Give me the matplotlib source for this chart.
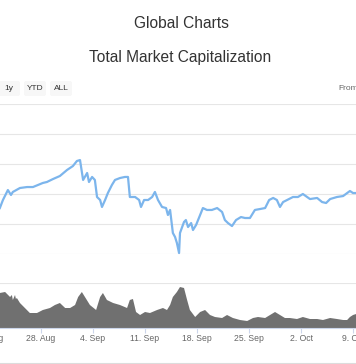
import matplotlib
matplotlib.use("Agg")
import matplotlib.pyplot as plt
import matplotlib.dates as mdates
from matplotlib.patches import FancyBboxPatch
import pandas as pd
import numpy as np

plt.rcParams['font.family'] = ['Liberation Sans', 'DejaVu Sans']

title = "Global Charts"
subtitle = "Total Market Capitalization"
range_buttons = ["1y", "YTD", "ALL"]
from_label = "From"

price_times = [
    "2017-08-22 11:00", "2017-08-22 21:00", "2017-08-23 13:00", "2017-08-23 23:00",
    "2017-08-24 05:00", "2017-08-25 04:00", "2017-08-26 03:00", "2017-08-26 22:00",
    "2017-08-28 06:00", "2017-08-28 19:00", "2017-08-29 15:00", "2017-08-30 13:00",
    "2017-08-31 12:00", "2017-09-01 07:00", "2017-09-01 20:00", "2017-09-02 06:00",
    "2017-09-02 16:00", "2017-09-03 05:00", "2017-09-03 11:00", "2017-09-03 21:00",
    "2017-09-04 06:00", "2017-09-04 13:00", "2017-09-04 23:00", "2017-09-05 05:00",
    "2017-09-05 15:00", "2017-09-06 00:00", "2017-09-06 13:00", "2017-09-06 23:00",
    "2017-09-07 15:00", "2017-09-08 07:00", "2017-09-08 17:00", "2017-09-08 23:00",
    "2017-09-09 16:00", "2017-09-10 05:00", "2017-09-10 11:00", "2017-09-10 21:00",
    "2017-09-11 10:00", "2017-09-11 23:00", "2017-09-12 08:00", "2017-09-12 18:00",
    "2017-09-13 07:00", "2017-09-13 20:00", "2017-09-14 02:00", "2017-09-14 09:00",
    "2017-09-14 18:00", "2017-09-15 01:00", "2017-09-15 07:00", "2017-09-15 14:00",
    "2017-09-15 17:00", "2017-09-16 00:00", "2017-09-16 06:00", "2017-09-16 12:00",
    "2017-09-16 19:00", "2017-09-17 05:00", "2017-09-17 11:00", "2017-09-17 21:00",
    "2017-09-18 10:00", "2017-09-18 19:00", "2017-09-19 08:00", "2017-09-20 00:00",
    "2017-09-20 17:00", "2017-09-21 09:00", "2017-09-21 18:00", "2017-09-22 04:00",
    "2017-09-22 17:00", "2017-09-23 06:00", "2017-09-23 22:00", "2017-09-24 11:00",
    "2017-09-25 03:00", "2017-09-25 19:00", "2017-09-26 12:00", "2017-09-27 04:00",
    "2017-09-27 17:00", "2017-09-28 06:00", "2017-09-28 18:00", "2017-09-29 04:00",
    "2017-09-29 14:00", "2017-09-30 03:00", "2017-09-30 22:00", "2017-10-01 14:00",
    "2017-10-02 06:00", "2017-10-03 05:00", "2017-10-04 04:00", "2017-10-04 20:00",
    "2017-10-05 09:00", "2017-10-05 22:00", "2017-10-06 20:00", "2017-10-07 16:00",
    "2017-10-08 05:00", "2017-10-08 14:00", "2017-10-09 00:00", "2017-10-09 10:00",
]
market_cap_bn = [
    138.3, 145.0, 153.3, 149.2, 151.7, 155.0, 155.8, 155.8,
    159.2, 160.0, 162.5, 165.0, 170.0, 173.3, 177.5, 178.3,
    161.7, 167.5, 160.0, 164.2, 161.7, 147.5, 145.0, 139.2,
    145.0, 150.8, 157.5, 161.7, 163.3, 164.2, 164.2, 147.5,
    147.5, 145.0, 139.2, 145.0, 145.0, 147.5, 151.7, 145.0,
    139.2, 138.3, 132.5, 136.7, 117.5, 114.2, 109.2, 100.8,
    117.5, 122.5, 126.7, 128.3, 122.5, 125.8, 120.0, 124.2,
    132.5, 138.3, 136.7, 136.7, 138.3, 135.0, 128.3, 125.8,
    123.3, 128.3, 130.8, 130.0, 130.0, 136.7, 137.5, 138.3,
    145.0, 146.7, 145.0, 139.2, 143.3, 145.0, 147.5, 147.5,
    150.0, 145.8, 146.7, 143.3, 142.5, 145.8, 147.5, 148.3,
    150.8, 152.5, 150.8, 150.8,
]

volume_times = [
    "2017-08-22 11:00", "2017-08-23 04:00", "2017-08-23 20:00", "2017-08-24 02:00",
    "2017-08-24 05:00", "2017-08-24 12:00", "2017-08-24 15:00", "2017-08-24 18:00",
    "2017-08-25 04:00", "2017-08-25 20:00", "2017-08-26 12:00", "2017-08-27 11:00",
    "2017-08-28 06:00", "2017-08-29 05:00", "2017-08-29 21:00", "2017-08-30 13:00",
    "2017-08-31 06:00", "2017-08-31 22:00", "2017-09-01 14:00", "2017-09-02 00:00",
    "2017-09-02 12:00", "2017-09-02 22:00", "2017-09-03 14:00", "2017-09-04 10:00",
    "2017-09-04 23:00", "2017-09-05 08:00", "2017-09-05 21:00", "2017-09-06 17:00",
    "2017-09-07 15:00", "2017-09-08 14:00", "2017-09-08 23:00", "2017-09-09 09:00",
    "2017-09-09 19:00", "2017-09-10 08:00", "2017-09-11 00:00", "2017-09-11 16:00",
    "2017-09-12 15:00", "2017-09-13 10:00", "2017-09-13 23:00", "2017-09-14 09:00",
    "2017-09-14 18:00", "2017-09-15 07:00", "2017-09-15 17:00", "2017-09-16 06:00",
    "2017-09-16 16:00", "2017-09-17 01:00", "2017-09-17 18:00", "2017-09-18 10:00",
    "2017-09-19 02:00", "2017-09-19 18:00", "2017-09-20 10:00", "2017-09-21 09:00",
    "2017-09-22 01:00", "2017-09-22 20:00", "2017-09-23 19:00", "2017-09-24 18:00",
    "2017-09-25 13:00", "2017-09-26 05:00", "2017-09-27 04:00", "2017-09-27 20:00",
    "2017-09-28 12:00", "2017-09-29 04:00", "2017-09-29 20:00", "2017-09-30 12:00",
    "2017-10-01 11:00", "2017-10-02 06:00", "2017-10-03 05:00", "2017-10-04 04:00",
    "2017-10-04 23:00", "2017-10-05 22:00", "2017-10-06 20:00", "2017-10-07 16:00",
    "2017-10-08 05:00", "2017-10-08 14:00", "2017-10-09 00:00", "2017-10-09 10:00",
]
volume_bn = [
    7.0, 7.2, 6.2, 6.6, 5.6, 6.6, 5.8, 6.0,
    5.0, 4.0, 3.0, 3.0, 3.6, 4.0, 4.6, 5.0,
    4.0, 4.0, 4.6, 6.2, 7.2, 6.2, 4.6, 3.6,
    6.2, 7.0, 5.6, 5.0, 4.6, 4.0, 5.6, 5.8,
    3.2, 2.6, 3.2, 3.0, 3.6, 4.0, 3.6, 4.6,
    6.2, 7.2, 8.2, 8.0, 5.6, 3.6, 2.2, 3.2,
    3.6, 2.6, 2.2, 2.0, 2.6, 2.0, 1.6, 1.4,
    2.0, 2.2, 2.0, 2.6, 3.2, 2.6, 2.0, 2.0,
    1.8, 2.2, 1.8, 1.8, 1.6, 2.0, 1.8, 1.6,
    1.6, 2.2, 2.6, 2.8,
]

tick_dates = ["2017-08-21", "2017-08-28", "2017-09-04", "2017-09-11",
              "2017-09-18", "2017-09-25", "2017-10-02", "2017-10-09"]
tick_labels = ["21. Aug", "28. Aug", "4. Sep", "11. Sep",
               "18. Sep", "25. Sep", "2. Oct", "9. Oct"]
price_grid = [100, 125, 150, 175, 200, 225]
volume_max = 9.0

W, H = 356, 364
fig = plt.figure(figsize=(W / 100, H / 100), dpi=100)
fig.patch.set_facecolor('white')


def fy(py):
    return 1 - py / H


def to_num(strings):
    return mdates.date2num(pd.to_datetime(strings).to_pydatetime())


ref_day = mdates.date2num(pd.Timestamp("2017-08-28").to_pydatetime())
x_start = ref_day - 5.52
x_end = ref_day + 42.40

pt = to_num(price_times)
vt = to_num(volume_times)
tk = to_num(tick_dates)

grid_c = '#e6e6e6'

# price panel
axp = fig.add_axes([0, fy(254), 1, (254 - 104) / H])
axp.plot(pt, market_cap_bn, color='#7cb5ec', lw=1.6, clip_on=False, solid_joinstyle='round')
axp.set_ylim(price_grid[0], price_grid[-1])
axp.set_yticks(price_grid)
axp.set_xticks([])
axp.set_xlim(x_start, x_end)
axp.grid(axis='y', color=grid_c, lw=0.8)
axp.set_axisbelow(True)
axp.tick_params(left=False, labelleft=False, bottom=False, labelbottom=False)
for s in axp.spines.values():
    s.set_visible(False)
axp.patch.set_alpha(0)

# volume panel
axv = fig.add_axes([0, fy(328), 1, (328 - 283) / H])
vx = np.concatenate([[vt[0]], vt, [vt[-1]]])
vy = np.concatenate([[0.0], np.asarray(volume_bn, dtype=float), [0.0]])
axv.fill(vx, vy, color='#707070', lw=0)
axv.set_ylim(0, volume_max)
axv.set_yticks([volume_max])
axv.grid(axis='y', color=grid_c, lw=0.8)
axv.set_axisbelow(True)
axv.tick_params(left=False, labelleft=False)
for k, s in axv.spines.items():
    s.set_visible(k == 'bottom')
axv.spines['bottom'].set_color('#ccd6eb')
axv.spines['bottom'].set_linewidth(0.8)
axv.set_xticks(tk)
axv.set_xticklabels([])
axv.tick_params(axis='x', length=3.6, width=0.8, color='#ccd6eb')
axv.set_xlim(x_start, x_end)
for t, lab in zip(tk, tick_labels):
    axv.annotate(lab, xy=(t, 0), xycoords=('data', 'axes fraction'),
                 xytext=(0, -4.6), textcoords='offset points',
                 ha='center', va='top', fontsize=6.2, color='#666666',
                 annotation_clip=False)
axv.patch.set_alpha(0)

# titles
fig.text(181 / W, fy(23), title, ha='center', va='center', fontsize=11.2, color='#333333')
fig.text(180.5 / W, fy(57.5), subtitle, ha='center', va='center', fontsize=11.2, color='#333333')

# range selector buttons
btn_x = [(-4, 20), (24, 46), (50, 72)]
for (x0, x1), lab in zip(btn_x, range_buttons):
    fig.patches.append(FancyBboxPatch(((x0) / W, fy(96)), (x1 - x0) / W, 15 / H,
                                      boxstyle="round,pad=0,rounding_size=0.006",
                                      transform=fig.transFigure, facecolor='#f7f7f7',
                                      edgecolor='none'))
    cx = 9 if lab == "1y" else (x0 + x1) / 2
    fig.text(cx / W, fy(88.5), lab, ha='center', va='center', fontsize=6.0, color='#333333')

fig.text(338 / W, fy(88.5), from_label, ha='left', va='center', fontsize=6.0, color='#666666')

# navigator top line
fig.add_artist(plt.Line2D([0, 1], [fy(362.7), fy(362.7)], transform=fig.transFigure,
                          color='#dcdcdc', lw=0.8))

fig.savefig("out.png", dpi=100, facecolor='white')
